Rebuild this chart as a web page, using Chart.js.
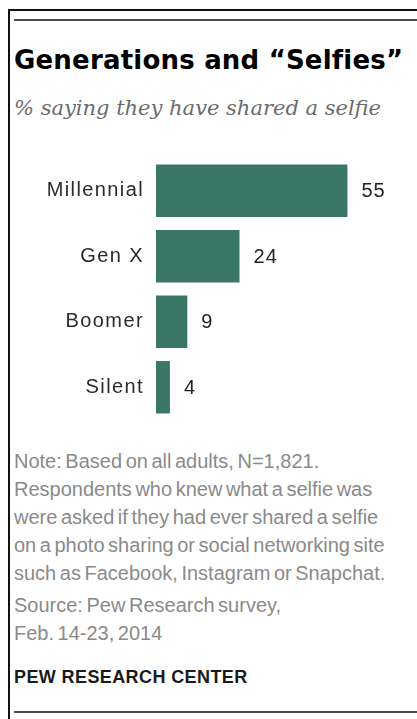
<!DOCTYPE html>
<html>
<head>
<meta charset="utf-8">
<script src="https://cdn.jsdelivr.net/npm/chart.js@4.4.1/dist/chart.umd.min.js"></script>
<style>
  body { margin: 0; background: #fff; }
  #page { position: relative; width: 417px; height: 719px; overflow: hidden; font-family: "Liberation Sans", Arial, sans-serif; }
  .rule { position: absolute; }
  #title { position: absolute; left: 14px; top: 45px; font-family: "DejaVu Sans", sans-serif; font-weight: bold; font-size: 26px; letter-spacing: 0.2px; color: #000; white-space: nowrap; }
  #subtitle { position: absolute; left: 14px; top: 96px; font-family: "DejaVu Serif", serif; font-style: italic; font-size: 21px; color: #6b6b6b; white-space: nowrap; }
  #chart { position: absolute; left: 0; top: 158px; }
  .note { position: absolute; left: 14px; font-size: 20px; line-height: 28px; word-spacing: -2px; color: #8a8a8a; white-space: nowrap; }
  #logo { position: absolute; left: 14px; top: 667px; font-weight: bold; font-size: 18px; letter-spacing: 0.4px; color: #1a1a1a; white-space: nowrap; }
</style>
</head>
<body>
<div id="page">
  <div class="rule" style="left:8px;top:9px;width:2px;height:710px;background:#111"></div>
  <div class="rule" style="left:8px;top:9px;width:409px;height:2px;background:#111"></div>
  <div class="rule" style="left:14px;top:19px;width:403px;height:2px;background:#4a4a4a"></div>
  <div class="rule" style="left:14px;top:711px;width:403px;height:2px;background:#4a4a4a"></div>

  <div id="title">Generations and “Selfies”</div>
  <div id="subtitle">% saying they have shared a selfie</div>

  <canvas id="chart" width="417" height="262"></canvas>

  <div class="note" style="top:447px">Note: Based on all adults, N=1,821.<br>Respondents who knew what a selfie was<br>were asked if they had ever shared a selfie<br>on a photo sharing or social networking site<br>such as Facebook, Instagram or Snapchat.</div>
  <div class="note" style="top:591px">Source: Pew Research survey,<br>Feb. 14-23, 2014</div>
  <div id="logo">PEW RESEARCH CENTER</div>
</div>

<script>
const generations = ['Millennial', 'Gen X', 'Boomer', 'Silent']
const sharedSelfie = [55, 24, 9, 4]

const barColor = '#3a7766'
const labelFont = { family: '"Liberation Sans", Arial, sans-serif', size: 20 }

// spacing like the original's loose sans text
const spacing = {
  id: 'spacing',
  beforeUpdate(chart) { chart.ctx.letterSpacing = '1.4px' },
  beforeDraw(chart) { chart.ctx.letterSpacing = '1.4px' }
}

const valueLabels = {
  id: 'valueLabels',
  afterDatasetsDraw(chart) {
    const ctx = chart.ctx
    const meta = chart.getDatasetMeta(0)
    ctx.save()
    ctx.letterSpacing = '1px'
    ctx.font = `${labelFont.size}px ${labelFont.family}`
    ctx.fillStyle = '#222'
    ctx.textAlign = 'left'
    ctx.textBaseline = 'middle'
    meta.data.forEach((bar, i) => {
      ctx.fillText(String(sharedSelfie[i]), bar.x + 14, bar.y + 1)
    })
    ctx.restore()
  }
}

new Chart(document.getElementById('chart'), {
  type: 'bar',
  data: {
    labels: generations,
    datasets: [{
      data: sharedSelfie,
      backgroundColor: barColor,
      barPercentage: 0.8,
      categoryPercentage: 1
    }]
  },
  options: {
    indexAxis: 'y',
    responsive: false,
    animation: false,
    layout: { padding: 0 },
    plugins: { legend: { display: false }, tooltip: { enabled: false } },
    scales: {
      x: { display: false, min: 0, max: 75 },
      y: {
        afterFit(scale) {
          scale.width = 156
          scale.paddingTop = 0
          scale.paddingBottom = 0
        },
        grid: { display: false, drawTicks: false },
        border: { display: false },
        ticks: { padding: 12, color: '#2b2b2b', font: labelFont }
      }
    }
  },
  plugins: [spacing, valueLabels]
})
</script>
</body>
</html>
